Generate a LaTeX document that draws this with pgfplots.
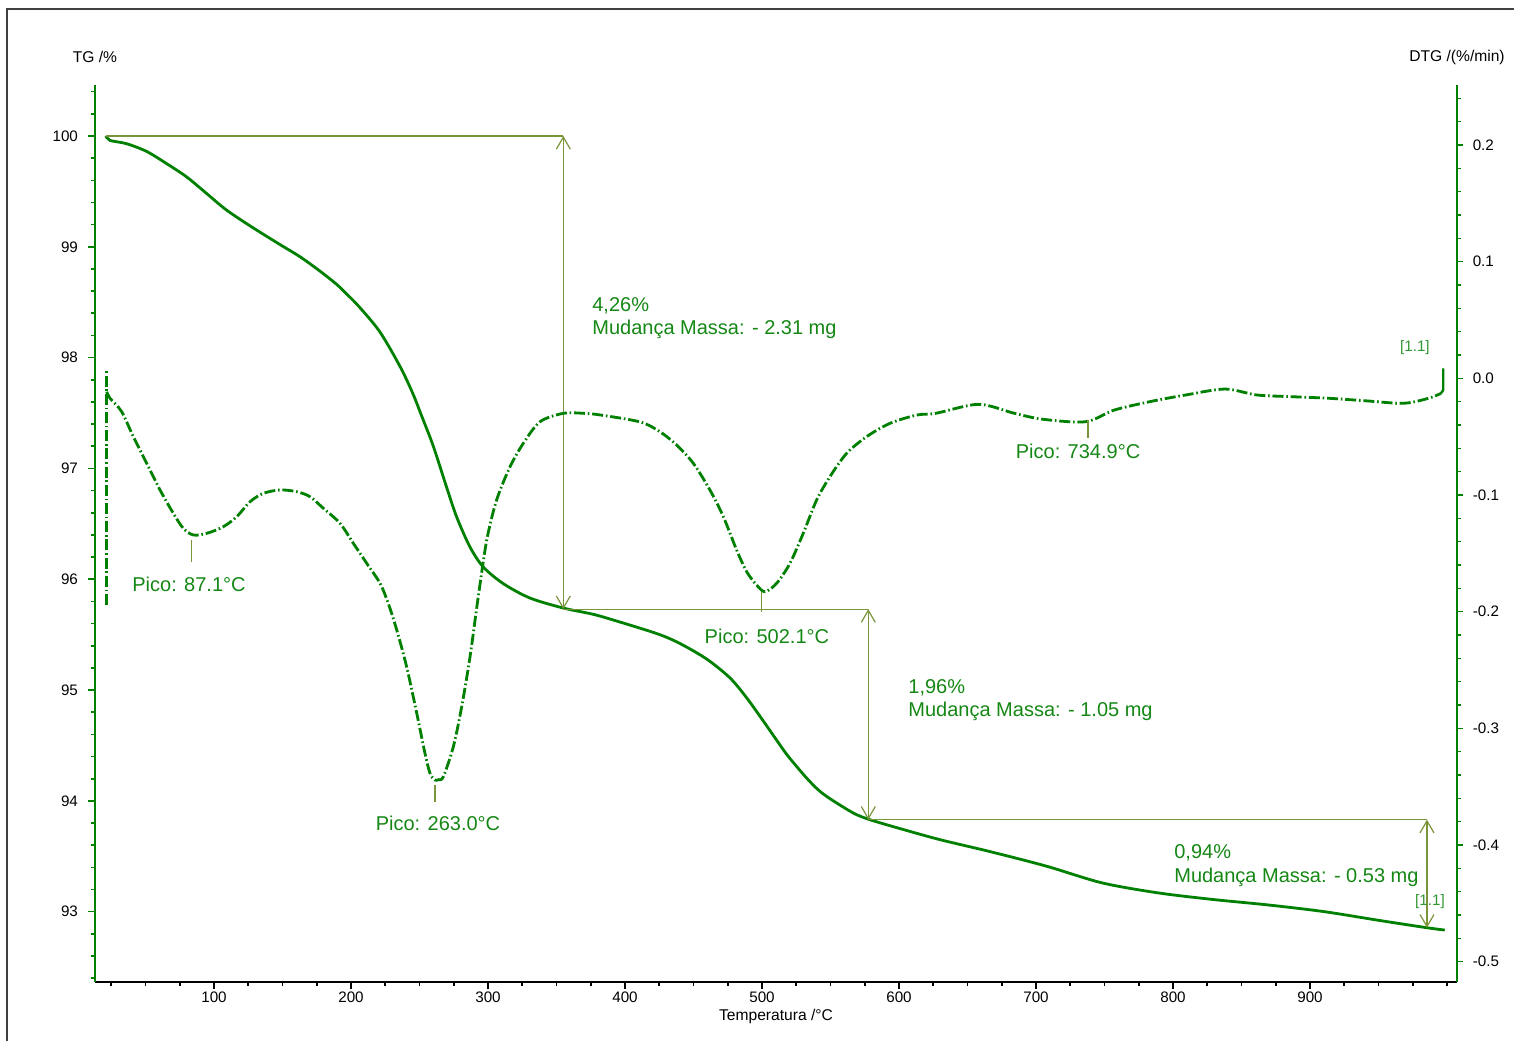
\documentclass[border=0pt]{standalone}
\usepackage{fontspec}
\setmainfont{Liberation Sans}
\usepackage{pgfplots}
\pgfplotsset{compat=1.18}
\usetikzlibrary{arrows.meta}
\definecolor{cg}{RGB}{0,128,0}
\definecolor{ol}{RGB}{122,148,58}
\definecolor{tg}{RGB}{20,135,20}
\definecolor{lg}{RGB}{50,150,50}
\definecolor{fr}{RGB}{64,64,64}

\pgfplotstableread{
T TG
21.2 100.0
24.1 99.96
36.3 99.93
50.9 99.86
65.5 99.75
80.1 99.63
94.7 99.48
109.3 99.33
128.7 99.17
148.2 99.02
162.8 98.91
177.4 98.78
189.6 98.66
198.0 98.56
206.6 98.45
221.2 98.23
235.8 97.92
245.0 97.68
252.0 97.46
260.1 97.20
269.8 96.83
277.2 96.56
286.9 96.29
296.6 96.11
311.2 95.96
330.7 95.83
355.0 95.74
374.5 95.69
386.6 95.65
423.1 95.51
440.1 95.42
459.6 95.28
476.6 95.11
488.8 94.93
501.0 94.72
510.0 94.56
518.0 94.42
526.0 94.30
533.0 94.20
541.0 94.10
549.6 94.02
566.7 93.89
578.8 93.83
600.7 93.75
629.9 93.65
667.2 93.54
707.8 93.41
748.2 93.26
788.9 93.17
829.2 93.11
870.0 93.06
910.5 93.00
951.1 92.92
985.4 92.855
998.4 92.834
}\tgdata

\pgfplotstableread{
T D
21.7 -0.0115
24.1 -0.0171
32.6 -0.0286
41.1 -0.050
50.9 -0.0729
60.6 -0.0957
70.3 -0.1157
77.6 -0.1286
84.9 -0.1343
94.7 -0.1329
106.8 -0.1272
116.6 -0.1186
126.3 -0.1058
136.0 -0.0986
148.2 -0.0957
160.4 -0.0972
170.1 -0.1015
179.8 -0.1114
192.0 -0.1243
201.7 -0.1414
211.5 -0.1586
221.2 -0.1757
227.2 -0.1929
233.4 -0.2157
240.6 -0.2472
248.0 -0.2871
254.0 -0.3214
257.7 -0.3386
261.3 -0.3443
264.0 -0.3440
267.4 -0.3415
274.7 -0.3158
280.8 -0.2815
286.9 -0.2386
292.9 -0.1872
299.1 -0.1386
306.3 -0.1043
316.1 -0.0758
325.8 -0.0557
338.0 -0.0372
355.0 -0.0300
369.6 -0.0300
381.8 -0.0314
411.0 -0.0374
425.5 -0.0458
437.7 -0.0572
449.9 -0.0729
462.0 -0.0957
471.8 -0.1186
481.5 -0.1472
488.8 -0.1657
496.1 -0.1772
502.2 -0.1829
510.7 -0.1757
520.4 -0.1586
530.1 -0.1329
539.9 -0.1043
549.6 -0.0843
561.8 -0.0643
576.4 -0.0500
593.4 -0.0386
612.9 -0.0315
626.8 -0.0300
658.1 -0.0223
684.2 -0.0300
705.0 -0.0351
736.3 -0.0372
757.2 -0.0272
783.2 -0.0200
809.3 -0.0143
838.0 -0.0092
861.3 -0.0143
887.5 -0.0158
913.6 -0.0171
939.6 -0.0192
968.3 -0.0214
986.6 -0.0171
995.6 -0.0129
}\dtgdata

\tikzset{
  annot/.style={ol, line width=0.6pt},
  dbl/.style={annot, {Straight Barb[length=6pt,width=7pt]}-{Straight Barb[length=6pt,width=7pt]}},
  atext/.style={tg, font=\fontsize{10}{12}\selectfont, inner sep=0pt},
}
\pgfplotsset{
  common/.style={
    at={(47.5pt,29.65pt)}, anchor=south west, scale only axis,
    width=680.85pt, height=448.35pt,
    xmin=13.14, xmax=1007.1,
    clip=false,
    tick align=outside,
    major tick length=3.5pt, minor tick length=2pt,
    ticklabel style={font=\fontsize{7.6}{9}\selectfont},
    /pgf/number format/assume math mode=true,
  },
}

\begin{document}
\begin{tikzpicture}
\useasboundingbox (0,0) rectangle (757pt,520.5pt);
\draw[fr, line width=0.8pt] (3.5pt,0) -- (3.5pt,516pt) -- (757pt,516pt);

\begin{axis}[common,
  ymin=92.368, ymax=100.46,
  axis x line*=bottom, axis y line*=left,
  x axis line style={black, line width=1pt, -},
  y axis line style={cg, line width=1.2pt, -},
  xtick={100,200,...,900}, minor xtick={25,50,...,1000},
  ytick={93,...,100}, minor ytick={92.4,92.6,...,100.4},
  x tick style={black, line width=0.8pt},
  y tick style={cg, line width=0.8pt},
  yticklabel style={xshift=-1.5pt},
  xticklabel style={yshift=2pt},
]
\addplot[cg, line width=1.4pt, smooth, tension=0.5] table[x=T, y=TG] {\tgdata};
\draw[annot] (axis cs:21.2,100) -- (axis cs:355,100);
\draw[dbl] (axis cs:355,100) -- (axis cs:355,95.73);
\draw[annot] (axis cs:355,95.73) -- (axis cs:577.6,95.73);
\draw[dbl] (axis cs:577.6,95.73) -- (axis cs:577.6,93.83);
\draw[annot] (axis cs:577.6,93.83) -- (axis cs:985.4,93.83);
\draw[dbl] (axis cs:985.4,93.83) -- (axis cs:985.4,92.855);
\node[atext, anchor=west] at (axis cs:375.9,98.466) {4,26\%};
\node[atext, anchor=west] at (axis cs:375.9,98.258) {Mudança Massa: - 2.31 mg};
\node[atext, anchor=west] at (axis cs:606.6,95.018) {1,96\%};
\node[atext, anchor=west] at (axis cs:606.6,94.81) {Mudança Massa: - 1.05 mg};
\node[atext, anchor=west] at (axis cs:800.7,93.53) {0,94\%};
\node[atext, anchor=west] at (axis cs:800.7,93.31) {Mudança Massa: - 0.53 mg};
\node[lg, font=\fontsize{7.6}{9}\selectfont, inner sep=0pt] at (axis cs:987.6,93.09) {[1.1]};
\end{axis}

\begin{axis}[common,
  ymin=-0.5172, ymax=0.2514,
  axis x line=none, axis y line*=right,
  y axis line style={cg, line width=1.2pt, -},
  ytick={-0.5,-0.4,-0.3,-0.2,-0.1,0,0.1,0.2},
  minor ytick={-0.5,-0.48,...,0.245},
  y tick style={cg, line width=0.8pt},
  major tick length=3pt,
  yticklabel style={xshift=1.5pt, /pgf/number format/.cd, fixed, fixed zerofill, precision=1},
]
\addplot[cg, line width=1.4pt, dash pattern=on 5.5pt off 1.4pt on 0.8pt off 1.4pt] coordinates {(21.7,-0.1943) (21.7,0.0071)};
\addplot[cg, line width=1.4pt, smooth, tension=0.5, dash pattern=on 5.5pt off 1.4pt on 0.8pt off 1.4pt] table[x=T, y=D] {\dtgdata};
\addplot[cg, line width=1.2pt] coordinates {(995.6,-0.0129) (997.3,-0.010) (997.3,0.0085)};
\draw[annot] (axis cs:83.7,-0.1386) -- (axis cs:83.7,-0.1572);
\draw[annot] (axis cs:261.3,-0.3486) -- (axis cs:261.3,-0.3631);
\draw[annot] (axis cs:499.8,-0.1829) -- (axis cs:499.8,-0.200);
\draw[annot] (axis cs:738,-0.0357) -- (axis cs:738,-0.0514);
\node[atext] at (axis cs:81.75,-0.1763) {Pico: 87.1°C};
\node[atext] at (axis cs:263.5,-0.3812) {Pico: 263.0°C};
\node[atext] at (axis cs:503.6,-0.2208) {Pico: 502.1°C};
\node[atext] at (axis cs:730.7,-0.0623) {Pico: 734.9°C};
\node[lg, font=\fontsize{7.6}{9}\selectfont, inner sep=0pt] at (axis cs:976.6,0.026) {[1.1]};
\end{axis}

\node[font=\fontsize{7.8}{9}\selectfont] at (47.5pt,492pt) {TG /\%};
\node[font=\fontsize{7.8}{9}\selectfont] at (728.5pt,492pt) {DTG /(\%/min)};
\node[font=\fontsize{7.8}{9}\selectfont] at (388pt,12.5pt) {Temperatura /°C};
\end{tikzpicture}
\end{document}
